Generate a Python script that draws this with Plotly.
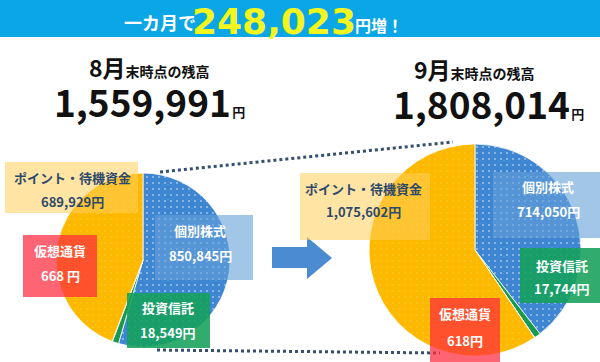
import plotly.graph_objects as go

W, H = 600, 362

categories = ["個別株式", "投資信託", "仮想通貨", "ポイント・待機資金"]
aug_values = [850845, 18549, 668, 689929]
sep_values = [714050, 17744, 618, 1075602]
aug_total = "1,559,991"
sep_total = "1,808,014"
increase = "248,023"

slice_colors = ["#3f86d2", "#1a9a50", "#e8321e", "#fdb900"]
patterns = dict(shape=[".", "", "", "."],
                bgcolor=slice_colors,
                fgcolor=["rgba(255,255,255,0.85)", "#1a9a50", "#e8321e", "rgba(255,205,60,0.9)"],
                size=6, solidity=0.06, fillmode="replace")

FONT = "Noto Sans CJK JP"
NUMFONT = "DejaVu Sans"


def px(x):
    return x / W


def py(y):
    return 1 - y / H


fig = go.Figure()
fig.add_trace(go.Pie(
    values=aug_values, labels=categories, sort=False, direction="clockwise", rotation=0,
    textinfo="none", hoverinfo="label+value", showlegend=False,
    marker=dict(colors=slice_colors, line=dict(color="white", width=0.8), pattern=patterns),
    domain=dict(x=[px(56), px(230)], y=[py(347), py(173)]),
))
fig.add_trace(go.Pie(
    values=sep_values, labels=categories, sort=False, direction="clockwise", rotation=0,
    textinfo="none", hoverinfo="label+value", showlegend=False,
    marker=dict(colors=slice_colors, line=dict(color="white", width=0.8), pattern=patterns),
    domain=dict(x=[px(369), px(581)], y=[py(356), py(144)]),
))

shapes = []
# banner
shapes.append(dict(type="rect", xref="paper", yref="paper", x0=0, x1=1, y0=py(37), y1=1,
                   fillcolor="#0aa6e6", line=dict(width=0), layer="below"))
# dotted connecting lines
for (x0, y0, x1, y1) in [(160, 172, 453, 142), (157, 350, 440, 353)]:
    shapes.append(dict(type="line", xref="paper", yref="paper", x0=px(x0), y0=py(y0), x1=px(x1), y1=py(y1),
                       line=dict(color="#34506e", width=3, dash="dot"), layer="below"))
# arrow
ax = [272, 307, 307, 332, 307, 307, 272]
ay = [247, 247, 237, 258, 279, 268, 268]
path = "M " + " L ".join(f"{px(a)},{py(b)}" for a, b in zip(ax, ay)) + " Z"
shapes.append(dict(type="path", xref="paper", yref="paper", path=path,
                   fillcolor="#4b8bd2", line=dict(width=0)))


def box(x0, y0, x1, y1, color):
    shapes.append(dict(type="rect", xref="paper", yref="paper", x0=px(x0), x1=px(x1), y0=py(y1), y1=py(y0),
                       fillcolor=color, line=dict(width=0), layer="above"))


YEL = "rgba(255,205,90,0.55)"
BLU = "rgba(100,160,215,0.6)"
GRN = "rgba(20,160,90,0.88)"
RED = "rgba(255,40,60,0.72)"

box(5, 162, 138, 213, YEL)
box(23, 235, 97, 297, RED)
box(155, 215, 253, 280, BLU)
box(127, 293, 210, 348, GRN)
box(300, 173, 430, 240, YEL)
box(493, 172, 600, 238, BLU)
box(520, 248, 600, 303, GRN)
box(430, 298, 500, 362, RED)

fig.update_layout(shapes=shapes)

ann = []


def text(x, y, s, size, color, xanchor="center", yanchor="middle", family=FONT):
    ann.append(dict(xref="paper", yref="paper", x=px(x), y=py(y), text=s, showarrow=False,
                    xanchor=xanchor, yanchor=yanchor,
                    font=dict(family=family, size=size, color=color, weight="bold")))


# banner text
text(122, 22, "一カ月で", 18, "white", xanchor="left")
text(190, 21, increase, 36, "#f2f51e", xanchor="left", family=NUMFONT)
text(353, 25, "円増！", 16, "white", xanchor="left")

# headings
SMALL = "<span style='font-size:14px'>末時点の残高</span>"
YEN = "<span style='font-size:6px'> </span><span style='font-size:13px'>円</span>"
text(87, 67, "8月" + SMALL, 23, "#111", xanchor="left")
text(52, 101, aug_total + YEN, 37, "#111", xanchor="left")

text(412, 69, "9月" + SMALL, 23, "#111", xanchor="left")
text(391, 103, sep_total + YEN, 37, "#111", xanchor="left")

DARK = "#2e4a6a"


def fmt(v):
    return f"{v:,}円"


# left pie labels
text(72, 177, categories[3], 13, DARK)
text(72, 201, fmt(aug_values[3]), 13, DARK)
text(60, 250, categories[2], 13, "white")
text(60, 275, f"{aug_values[2]:,} 円", 13, "white")
text(200, 230, categories[0], 13, "white")
text(200, 255, fmt(aug_values[0]), 13, "white")
text(168, 307, categories[1], 13, "white")
text(168, 332, fmt(aug_values[1]), 13, "white")

# right pie labels
text(363, 188, categories[3], 13, DARK)
text(363, 212, fmt(sep_values[3]), 13, DARK)
text(548, 187, categories[0], 13, "white")
text(548, 212, fmt(sep_values[0]), 13, "white")
text(562, 265, categories[1], 13, "white")
text(562, 288, fmt(sep_values[1]), 13, "white")
text(465, 313, categories[2], 13, "white")
text(465, 340, fmt(sep_values[2]), 13, "white")

fig.update_layout(annotations=ann, width=W, height=H, margin=dict(l=0, r=0, t=0, b=0),
                  paper_bgcolor="white", plot_bgcolor="white")

fig.write_html("out.html")
